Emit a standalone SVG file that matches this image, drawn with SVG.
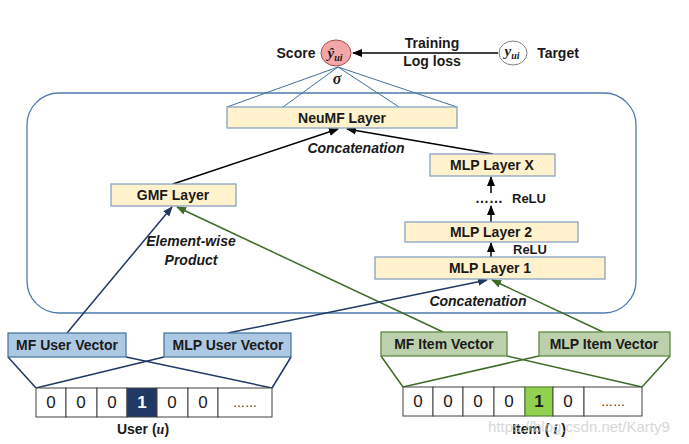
<svg xmlns="http://www.w3.org/2000/svg" width="689" height="444" viewBox="0 0 689 444">
<defs>
<marker id="ab" markerWidth="10" markerHeight="10" refX="9" refY="5" orient="auto" markerUnits="userSpaceOnUse"><path d="M0,1 L10,5 L0,9 Z" fill="#000"/></marker>
<marker id="abl" markerWidth="10" markerHeight="10" refX="9" refY="5" orient="auto" markerUnits="userSpaceOnUse"><path d="M0,1 L10,5 L0,9 Z" fill="#203864"/></marker>
<marker id="agr" markerWidth="10" markerHeight="10" refX="9" refY="5" orient="auto" markerUnits="userSpaceOnUse"><path d="M0,1 L10,5 L0,9 Z" fill="#3f6b28"/></marker>
</defs>
<style>
text{font-family:"Liberation Sans",Arial,sans-serif;font-weight:bold;fill:#1a1a1a}
.t{font-size:14px}
.c{text-anchor:middle}
.it{font-style:italic}
.layer{fill:#fff2cc;stroke:#7f9cbf;stroke-width:1.2}
.uvec{fill:#adc8e2;stroke:#41719c;stroke-width:1.2}
.ivec{fill:#bdd0ad;stroke:#548235;stroke-width:1.2}
.cell{fill:#fff;stroke:#404040;stroke-width:1}
.bl{stroke:#203864;stroke-width:1.5;fill:none}
.gr{stroke:#3f6b28;stroke-width:1.5;fill:none}
.bk{stroke:#000;stroke-width:1.5;fill:none}
.thin{stroke:#41719c;stroke-width:1;fill:none}
.digit{font-family:"Liberation Sans",Arial,sans-serif;font-weight:normal;font-size:17px;text-anchor:middle}
</style>

<rect id="container" x="27" y="93" width="609" height="220" rx="32" ry="32" fill="none" stroke="#4f7bac" stroke-width="1.3"/>

<g id="connectors">
<line class="bk" x1="498" y1="53" x2="353" y2="53" marker-end="url(#ab)"/>
<line class="thin" x1="338" y1="67" x2="227" y2="107"/>
<line class="thin" x1="338" y1="67" x2="283" y2="107"/>
<line class="thin" x1="338" y1="67" x2="399" y2="107"/>
<line class="thin" x1="338" y1="67" x2="457" y2="107"/>
<line class="bk" x1="173" y1="184" x2="338" y2="129" marker-end="url(#ab)"/>
<line class="bk" x1="493" y1="154" x2="347" y2="129" marker-end="url(#ab)"/>
<line class="bk" x1="491" y1="222" x2="491" y2="206" marker-end="url(#ab)"/>
<line class="bk" x1="491" y1="193" x2="491" y2="177" marker-end="url(#ab)"/>
<line class="bk" x1="491" y1="257" x2="491" y2="243" marker-end="url(#ab)"/>
<line class="bl" x1="67" y1="333" x2="172" y2="207" marker-end="url(#abl)"/>
<line class="gr" x1="443" y1="332" x2="177" y2="207" marker-end="url(#agr)"/>
<line class="bl" x1="228" y1="333" x2="487" y2="280" marker-end="url(#abl)"/>
<line class="gr" x1="603" y1="332" x2="492" y2="280" marker-end="url(#agr)"/>
<line class="bl" x1="8" y1="357" x2="36" y2="388"/>
<line class="bl" x1="126" y1="357" x2="272" y2="388"/>
<line class="bl" x1="164" y1="357" x2="36" y2="388"/>
<line class="bl" x1="291" y1="357" x2="272" y2="388"/>
<line class="gr" x1="381" y1="356" x2="403" y2="387"/>
<line class="gr" x1="507" y1="356" x2="642" y2="387"/>
<line class="gr" x1="539" y1="356" x2="403" y2="387"/>
<line class="gr" x1="670" y1="356" x2="642" y2="387"/>
</g>

<g id="score">
<ellipse cx="336" cy="53" rx="15" ry="13" fill="#f4a7a9" stroke="#a05050" stroke-width="1"/>
<text x="335" y="58" class="c" style="font-family:'Liberation Serif',serif;font-style:italic;font-size:15px">ŷ<tspan font-size="10" dy="3">ui</tspan></text>
<text x="296" y="58" class="t c">Score</text>
<text x="337" y="84" class="c it" style="font-family:'Liberation Serif',serif;font-size:16px">σ</text>
</g>
<g id="target">
<ellipse cx="513" cy="53" rx="14" ry="12" fill="#fff" stroke="#808080" stroke-width="1"/>
<text x="512" y="56" class="c" style="font-family:'Liberation Serif',serif;font-style:italic;font-size:15px">y<tspan font-size="10" dy="3">ui</tspan></text>
<text x="558" y="58" class="t c">Target</text>
</g>
<g id="loss-label">
<text x="432" y="48" class="t c">Training</text>
<text x="432" y="66" class="t c">Log loss</text>
</g>

<g id="neumf"><rect class="layer" x="227" y="107" width="230" height="21"/><text x="342" y="123" class="t c">NeuMF Layer</text></g>
<text x="356" y="153" class="t c it">Concatenation</text>
<g id="gmf"><rect class="layer" x="111" y="184" width="125" height="22"/><text x="173" y="200" class="t c">GMF Layer</text></g>
<text x="191" y="246" class="t c it">Element-wise</text>
<text x="191" y="265" class="t c it">Product</text>
<g id="mlpx"><rect class="layer" x="430" y="154" width="125" height="22"/><text x="492" y="170" class="t c">MLP Layer X</text></g>
<text x="475" y="203" class="t">……</text>
<text x="512" y="203" style="font-size:13px">ReLU</text>
<g id="mlp2"><rect class="layer" x="405" y="222" width="173" height="20"/><text x="491" y="237" class="t c">MLP Layer 2</text></g>
<text x="513" y="254" style="font-size:13px">ReLU</text>
<g id="mlp1"><rect class="layer" x="375" y="257" width="230" height="22"/><text x="490" y="273" class="t c">MLP Layer 1</text></g>
<text x="478" y="306" class="t c it">Concatenation</text>

<g id="mf-user"><rect class="uvec" x="8" y="333" width="118" height="24"/><text x="67" y="350" class="t c">MF User Vector</text></g>
<g id="mlp-user"><rect class="uvec" x="164" y="333" width="127" height="24"/><text x="228" y="350" class="t c">MLP User Vector</text></g>
<g id="mf-item"><rect class="ivec" x="381" y="332" width="126" height="24"/><text x="444" y="349" class="t c">MF Item Vector</text></g>
<g id="mlp-item"><rect class="ivec" x="539" y="332" width="131" height="24"/><text x="604" y="349" class="t c">MLP Item Vector</text></g>

<g id="user-onehot">
<rect class="cell" x="36" y="388" width="30" height="29"/>
<rect class="cell" x="66" y="388" width="31" height="29"/>
<rect class="cell" x="97" y="388" width="30" height="29"/>
<rect x="127" y="388" width="30" height="29" fill="#1f3864" stroke="#404040"/>
<rect class="cell" x="157" y="388" width="31" height="29"/>
<rect class="cell" x="188" y="388" width="30" height="29"/>
<rect class="cell" x="218" y="388" width="54" height="29"/>
<text class="digit" x="51" y="408">0</text>
<text class="digit" x="81" y="408">0</text>
<text class="digit" x="112" y="408">0</text>
<text class="digit" x="142" y="408" style="fill:#fff;font-weight:bold">1</text>
<text class="digit" x="172" y="408">0</text>
<text class="digit" x="203" y="408">0</text>
<text class="digit" x="245" y="407" style="font-size:12px">……</text>
<text x="143" y="434" class="t c">User (<tspan style="font-family:'Liberation Serif',serif;font-style:italic">u</tspan>)</text>
</g>

<g id="item-onehot">
<rect class="cell" x="403" y="387" width="30" height="29"/>
<rect class="cell" x="433" y="387" width="30" height="29"/>
<rect class="cell" x="463" y="387" width="31" height="29"/>
<rect class="cell" x="494" y="387" width="31" height="29"/>
<rect x="525" y="387" width="28" height="29" fill="#92d050" stroke="#548235" stroke-width="1.2"/>
<rect class="cell" x="553" y="387" width="31" height="29"/>
<rect class="cell" x="584" y="387" width="58" height="29"/>
<text class="digit" x="418" y="407">0</text>
<text class="digit" x="448" y="407">0</text>
<text class="digit" x="478" y="407">0</text>
<text class="digit" x="509" y="407">0</text>
<text class="digit" x="539" y="407" style="font-weight:bold">1</text>
<text class="digit" x="568" y="407">0</text>
<text class="digit" x="613" y="406" style="font-size:12px">……</text>
<text x="539" y="434" class="t c">Item ( <tspan style="font-family:'Liberation Serif',serif;font-style:italic">i</tspan> )</text>
</g>
<text x="488" y="432" style="font-weight:normal;font-size:15px;fill:#c8c8c8;opacity:0.7">https://blog.csdn.net/Karty9</text>
</svg>
